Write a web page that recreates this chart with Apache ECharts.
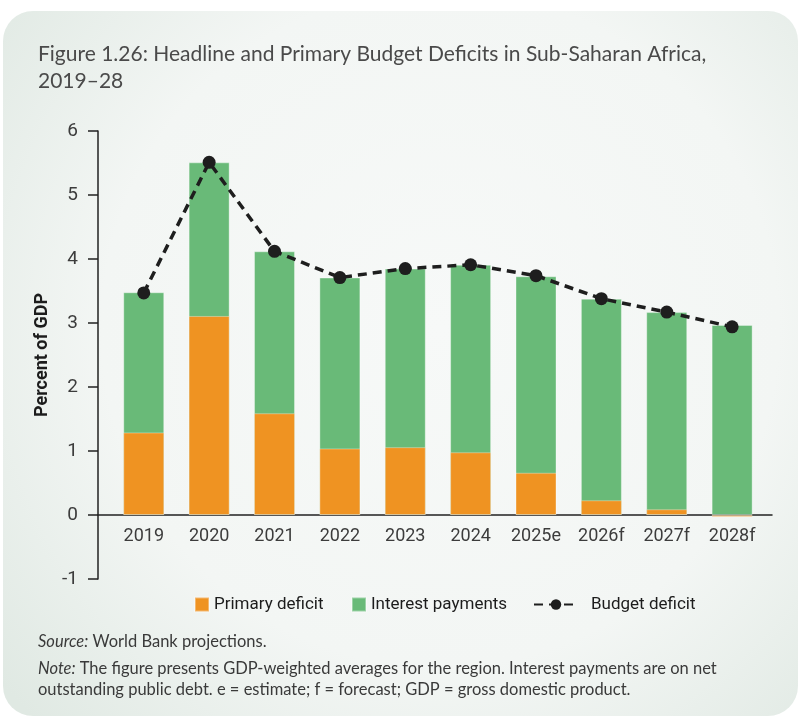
<!DOCTYPE html>
<html>
<head>
<meta charset="utf-8">
<script src="https://cdn.jsdelivr.net/npm/echarts@6/dist/echarts.min.js"></script>
<style>
  html, body { margin: 0; padding: 0; background: #ffffff; }
  #chart { width: 799px; height: 719px; }
</style>
</head>
<body>
<div id="chart"></div>
<script>
// ---- data ----
const categories = ['2019', '2020', '2021', '2022', '2023', '2024', '2025e', '2026f', '2027f', '2028f'];
const primaryDeficit = [1.29, 3.11, 1.59, 1.04, 1.06, 0.98, 0.66, 0.23, 0.09, -0.03];
const interestPayments = [2.19, 2.40, 2.53, 2.67, 2.79, 2.93, 3.07, 3.15, 3.08, 2.97];
const budgetDeficit = [3.47, 5.51, 4.12, 3.71, 3.85, 3.91, 3.74, 3.38, 3.17, 2.94];
const yTicks = [-1, 0, 1, 2, 3, 4, 5, 6];

const condensed = "'Liberation Sans Narrow','Roboto',sans-serif";
const humanist = "'Lato','Open Sans',sans-serif";
const ORANGE = '#EF9322';
const GREEN = '#69BA78';
const BLACK = '#1e1e1e';

const GRID = { left: 98, right: 27, top: 131, bottom: 140 };
const CHART_H = 719;
const yMin = yTicks[0], yMax = yTicks[yTicks.length - 1];
const gridH = CHART_H - GRID.top - GRID.bottom;
// move the category axis up from the grid bottom to the zero line
const zeroOffset = -(0 - yMin) * gridH / (yMax - yMin);

const idx = categories.map((c, i) => i);
// interest payments sit on top of the positive part of the primary deficit
const greenTop = interestPayments.map((v, i) => Math.max(primaryDeficit[i], 0) + v);

const chart = echarts.init(document.getElementById('chart'), null, { renderer: 'canvas' });

const legendText = { fontFamily: condensed, fontSize: 17, color: '#1c1c1c' };
const legendBase = {
  top: 591,
  itemHeight: 14,
  itemWidth: 14,
  textStyle: legendText,
  selectedMode: false
};

const option = {
  backgroundColor: 'transparent',
  animation: false,
  graphic: [{
    type: 'rect',
    z: -10,
    silent: true,
    shape: { x: 3, y: 11, width: 795, height: 705, r: 30 },
    style: {
      fill: {
        type: 'radial', x: 0.55, y: 0.45, r: 0.8,
        colorStops: [
          { offset: 0, color: '#f7f9f8' },
          { offset: 0.6, color: '#f3f6f4' },
          { offset: 1, color: '#e0e9e3' }
        ]
      }
    }
  }],
  title: [{
    text: 'Figure 1.26: Headline and Primary Budget Deficits in Sub-Saharan Africa,\n2019–28',
    left: 33, top: 36,
    textStyle: { fontFamily: humanist, fontSize: 21, fontWeight: 'normal', color: '#4a4a4a', lineHeight: 27 }
  }, {
    text: '{i|Source:} World Bank projections.',
    left: 33, top: 628,
    textStyle: {
      fontFamily: humanist, fontSize: 16.5, fontWeight: 'normal', color: '#3a3a3a', lineHeight: 18,
      rich: { i: { fontFamily: humanist, fontSize: 16.5, fontStyle: 'italic', color: '#3a3a3a' } }
    }
  }, {
    text: '{i|Note:} The figure presents GDP-weighted averages for the region. Interest payments are on net\noutstanding public debt. e = estimate; f = forecast; GDP = gross domestic product.',
    left: 33, top: 653,
    textStyle: {
      fontFamily: humanist, fontSize: 16.5, fontWeight: 'normal', color: '#3a3a3a', lineHeight: 21,
      rich: { i: { fontFamily: humanist, fontSize: 16.5, fontStyle: 'italic', color: '#3a3a3a', lineHeight: 21 } }
    }
  }],
  legend: [
    Object.assign({}, legendBase, { left: 189, data: [{ name: 'Primary deficit', icon: 'rect' }] }),
    Object.assign({}, legendBase, { left: 346, data: [{ name: 'Interest payments', icon: 'rect' }] }),
    Object.assign({}, legendBase, {
      left: 528, itemWidth: 44, itemHeight: 13,
      data: [{ name: 'Budget deficit' }],
      textStyle: Object.assign({}, legendText, { padding: [0, 0, 0, 8] })
    })
  ],
  grid: Object.assign({ containLabel: false }, GRID),
  xAxis: {
    type: 'value',
    min: -0.7,
    max: 9.61,
    position: 'bottom',
    offset: zeroOffset,
    splitLine: { show: false },
    axisTick: { show: false },
    axisLine: { show: true, onZero: false, lineStyle: { color: '#222', width: 1.5 } },
    axisLabel: {
      customValues: idx,
      formatter: (v) => categories[Math.round(v)],
      fontFamily: condensed, fontSize: 18, color: '#3c3c3c', margin: 12
    }
  },
  yAxis: {
    type: 'value',
    min: yMin,
    max: yMax,
    interval: 1,
    splitLine: { show: false },
    axisLine: { show: true, onZero: false, lineStyle: { color: '#222', width: 1.5 } },
    axisTick: { show: true, length: 10, lineStyle: { color: '#222', width: 1.5 } },
    axisLabel: { fontFamily: condensed, fontSize: 19, color: '#3c3c3c', margin: 20 },
    name: 'Percent of GDP',
    nameLocation: 'middle',
    nameRotate: 90,
    nameGap: 39,
    nameTextStyle: { fontFamily: condensed, fontSize: 18, fontWeight: 'bold', color: '#1c1c1c' }
  },
  series: [{
    name: 'Interest payments',
    type: 'bar',
    barWidth: 41,
    barGap: '-100%',
    data: idx.map(i => [i, greenTop[i]]),
    itemStyle: { color: GREEN, borderColor: 'rgba(255,255,255,0.35)', borderWidth: 1 }
  }, {
    name: 'Primary deficit',
    type: 'bar',
    barWidth: 41,
    barGap: '-100%',
    data: idx.map(i => [i, primaryDeficit[i]]),
    itemStyle: { color: ORANGE, borderColor: 'rgba(255,255,255,0.35)', borderWidth: 1 }
  }, {
    name: 'Budget deficit',
    type: 'line',
    z: 5,
    data: idx.map(i => [i, budgetDeficit[i]]),
    symbol: 'circle',
    symbolSize: 13,
    itemStyle: { color: BLACK },
    lineStyle: { color: BLACK, width: 3.5, type: [9, 6] }
  }]
};

chart.setOption(option);
</script>
</body>
</html>
